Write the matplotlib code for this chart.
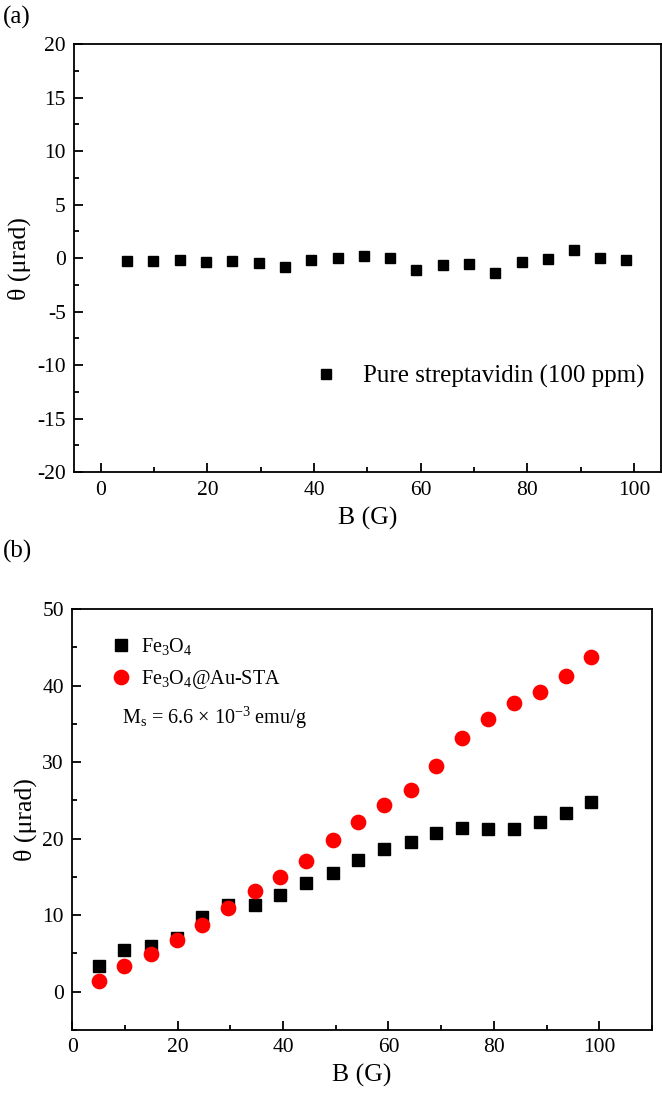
import matplotlib
matplotlib.use("Agg")
import matplotlib.pyplot as plt
from matplotlib.ticker import MultipleLocator

plt.rcParams['font.family'] = ['Liberation Serif', 'DejaVu Serif']
plt.rcParams['mathtext.fontset'] = 'custom'
plt.rcParams['mathtext.rm'] = 'Liberation Serif'
plt.rcParams['mathtext.it'] = 'Liberation Serif:italic'
plt.rcParams['axes.unicode_minus'] = False

# ---- data ----
B_field = [5.0, 9.9, 14.9, 19.8, 24.7, 29.6, 34.6, 39.5, 44.4, 49.4,
           54.3, 59.2, 64.2, 69.1, 74.0, 78.9, 83.9, 88.8, 93.7, 98.5]
theta_strep = [-0.3, -0.3, -0.2, -0.33, -0.23, -0.4, -0.81, -0.13, 0.04, 0.24,
               0.07, -1.08, -0.6, -0.54, -1.42, -0.33, -0.03, 0.78, 0.04, -0.16]
theta_fe3o4 = [3.4, 5.5, 6.0, 7.0, 9.7, 11.3, 11.3, 12.7, 14.2, 15.5,
               17.2, 18.6, 19.6, 20.8, 21.4, 21.2, 21.3, 22.2, 23.4, 24.8]
theta_fe3o4_au = [1.4, 3.3, 4.9, 6.7, 8.7, 10.9, 13.2, 15.0, 17.1, 19.8,
                  22.2, 24.4, 26.4, 29.5, 33.1, 35.6, 37.7, 39.1, 41.2, 43.7]

label_strep = 'Pure streptavidin (100 ppm)'
label_fe = 'Fe$_3$O$_4$'
label_feau = 'Fe$_3$O$_4$@Au-STA'
ms_text = 'M$_\\mathrm{s}$ = 6.6 \u00d7 10$^{-3}$ emu/g'

fig = plt.figure(figsize=(6.62, 10.98), dpi=100)
ax1 = fig.add_axes([0.1118, 0.5699, 0.8863, 0.3898])
ax2 = fig.add_axes([0.1092, 0.0619, 0.8757, 0.3835])

def style(ax):
    for s in ax.spines.values():
        s.set_linewidth(1.3)
    ax.tick_params(which='both', direction='in', top=False, right=False, labelsize=15.5)
    ax.tick_params(which='major', length=6.5, width=1.3, pad=6)
    ax.tick_params(which='minor', length=3.5, width=1.3)

# top panel
ax1.plot(B_field, theta_strep, 's', color='black', markersize=7, label=label_strep)
ax1.set_xlim(-5, 105)
ax1.set_ylim(-20, 20)
ax1.xaxis.set_major_locator(MultipleLocator(20))
ax1.xaxis.set_minor_locator(MultipleLocator(10))
ax1.yaxis.set_major_locator(MultipleLocator(5))
ax1.yaxis.set_minor_locator(MultipleLocator(2.5))
ax1.set_xlabel('B (G)', fontsize=18.5, labelpad=5)
ax1.set_ylabel('\u03b8 (\u03bcrad)', fontsize=18.5, labelpad=4)
style(ax1)
ax1.legend(loc='center right', frameon=False, fontsize=18, handletextpad=0.5,
           bbox_to_anchor=(0.99, 0.223), borderaxespad=0)

# bottom panel
ax2.plot(B_field, theta_fe3o4, 's', color='black', markersize=9, label=label_fe)
ax2.plot(B_field, theta_fe3o4_au, 'o', color='#ff0000', markersize=10.3, label=label_feau)
ax2.set_xlim(0, 110)
ax2.set_ylim(-5, 50)
ax2.xaxis.set_major_locator(MultipleLocator(20))
ax2.xaxis.set_minor_locator(MultipleLocator(10))
ax2.yaxis.set_major_locator(MultipleLocator(10))
ax2.yaxis.set_minor_locator(MultipleLocator(5))
ax2.set_xlabel('B (G)', fontsize=18.5, labelpad=5)
ax2.set_ylabel('\u03b8 (\u03bcrad)', fontsize=18.5, labelpad=4)
style(ax2)
ax2.legend(loc='upper left', frameon=False, fontsize=14.5, handletextpad=0.35,
           bbox_to_anchor=(0.05, 0.955), labelspacing=0.55, borderaxespad=0,
           handlelength=1.2)
ax2.text(0.085, 0.741, ms_text, transform=ax2.transAxes, fontsize=14.5, va='center')

fig.text(0.005, 0.984, '(a)', fontsize=18, va='center')
fig.text(0.005, 0.498, '(b)', fontsize=18, va='center')

fig.savefig('out.png', dpi=100)
